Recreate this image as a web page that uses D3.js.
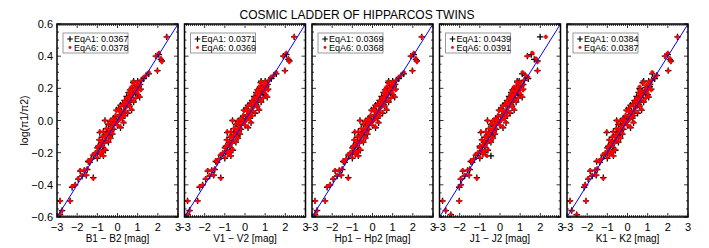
<!DOCTYPE html>
<html>
  <head>
    <title>Cosmic ladder of Hipparcos twins</title>
    <script src="https://cdnjs.cloudflare.com/ajax/libs/d3/7.8.5/d3.min.js"></script>
    <style>
      body { margin: 0; background: white; }
      text { font-family: "Liberation Sans", Arial, sans-serif; fill: black; }
    </style>
  </head>
  <body>
    <script>
      // panel bands and their legend numbers
      var bands = ['B1 \u2212 B2 [mag]', 'V1 \u2212 V2 [mag]', 'Hp1 \u2212 Hp2 [mag]', 'J1 \u2212 J2 [mag]', 'K1 \u2212 K2 [mag]'];
      var eqA1 = ['0.0367', '0.0371', '0.0369', '0.0439', '0.0384'];
      var eqA6 = ['0.0378', '0.0369', '0.0368', '0.0391', '0.0387'];
      var xTicks = [-3, -2, -1, 0, 1, 2, 3];
      var yTicks = [0.6, 0.4, 0.2, 0.0, -0.2, -0.4, -0.6];

      // log(pi1/pi2) per twin pair, EqA6 (red) and EqA1 (black)
      var yA6 = [0.52, 0.42, 0.40, 0.385, 0.365, 0.31, 0.30, 0.28, 0.27, 0.25, 0.23,
        0.24, 0.22, 0.20, 0.22, 0.21, 0.19, 0.18, 0.17, 0.17, 0.16, 0.15, 0.14, 0.13, 0.14, 0.12, 0.19,
        0.12, 0.11, 0.10, 0.09, 0.08, 0.09, 0.07, 0.06, 0.07, 0.05, 0.05, 0.06,
        0.03, 0.03, 0.02, 0.01, 0.00, 0.00, 0.00, -0.01, -0.02, -0.02, -0.03, -0.04, -0.04, -0.05, -0.05,
        -0.06, -0.07, -0.07, -0.08, -0.09, -0.10, -0.11, -0.12, -0.12, -0.13, -0.14, -0.15,
        -0.16, -0.17, -0.18, -0.19, -0.20, -0.20, -0.22, -0.21, -0.23, -0.24,
        -0.25, -0.26, -0.30, -0.31, -0.31, -0.34, -0.34, -0.36, -0.36, -0.40, -0.41, -0.50, -0.50, -0.56, -0.585,
        0.02, 0.10, 0.16, 0.20, 0.04, -0.01, -0.02, -0.08, -0.10, -0.13, -0.16, -0.10, 0.06,
        0.11, 0.18, 0.24, 0.13, 0.00, -0.19, -0.21, 0.19, 0.03, -0.07, 0.15, 0.01];
      var yA1 = [0.52, 0.41, 0.40, 0.38, 0.37, 0.31, 0.29, 0.28, 0.26, 0.25, 0.235,
        0.245, 0.215, 0.21, 0.225, 0.20, 0.19, 0.185, 0.16, 0.175, 0.165, 0.145, 0.14, 0.125, 0.15, 0.115, 0.195,
        0.125, 0.10, 0.105, 0.09, 0.085, 0.095, 0.065, 0.06, 0.075, 0.045, 0.055, 0.065,
        0.035, 0.025, 0.015, 0.015, 0.005, -0.005, 0.00, -0.015, -0.015, -0.025, -0.03, -0.035, -0.045, -0.05, -0.055,
        -0.065, -0.07, -0.075, -0.085, -0.09, -0.105, -0.11, -0.125, -0.12, -0.135, -0.14, -0.155,
        -0.165, -0.17, -0.185, -0.19, -0.205, -0.20, -0.22, -0.215, -0.235, -0.24,
        -0.255, -0.26, -0.305, -0.31, -0.315, -0.345, -0.34, -0.355, -0.365, -0.40, -0.415, -0.50, -0.50, -0.56, -0.585,
        0.025, 0.095, 0.155, 0.205, 0.045, -0.005, -0.025, -0.075, -0.10, -0.135, -0.16, -0.095, 0.06,
        0.115, 0.175, 0.245, 0.135, 0.005, -0.185, -0.21, 0.19, 0.03, -0.065, 0.145, 0.015];

      // magnitude differences: B, V, Hp look the same; J and K differ
      var xBVH = [2.44, 2.05, 1.90, 2.15, 2.20, 1.98, 1.55, 1.42, 1.30, 1.18, 0.78,
        0.80, 0.95, 1.05, 1.12, 0.70, 0.62, 0.88, 1.00, 0.55, 0.75, 1.10, 0.90, 0.65, 0.45, 0.80, 1.15,
        0.35, 0.55, 0.25, 0.60, 0.40, 0.15, 0.70, 0.30, 0.05, 0.50, 0.20, -0.05,
        0.10, -0.10, 0.25, -0.20, 0.05, -0.35, -0.62, 0.30, -0.15, -0.45, 0.00, -0.30, 0.15, -0.55, -0.20,
        -0.40, -0.70, -0.88, -0.25, -0.55, -0.75, -0.35, -0.60, -0.90, -0.45, -0.65, -0.85,
        -0.75, -1.00, -0.60, -0.90, -1.10, -0.80, -0.70, -1.20, -1.00, -1.30,
        -1.45, -1.38, -1.50, -1.65, -1.85, -1.75, -1.55, -1.20, -1.95, -2.10, -2.25, -2.35, -2.85, -2.75, -2.85,
        0.20, 0.45, 0.65, 0.85, 0.30, -0.05, -0.25, -0.50, -0.65, -0.80, -0.95, -0.40, 0.10,
        0.40, 0.70, 1.00, 0.55, -0.10, -0.70, -0.85, 0.95, 0.35, -0.30, 0.60, 0.15];
      var xJ6 = [2.27, 1.61, 1.36, 1.78, 1.86, 1.86, 1.12, 1.28, 1.40, 1.20, 0.87,
        0.85, 0.95, 1.05, 1.15, 0.70, 0.62, 0.88, 1.00, 0.55, 0.75, 1.10, 0.90, 0.65, 0.45, 0.80, 1.15,
        0.35, 0.55, 0.25, 0.60, 0.40, 0.15, 0.70, 0.30, 0.05, 0.50, 0.20, -0.05,
        0.10, -0.10, 0.25, -0.20, 0.05, -0.35, -0.62, 0.30, -0.15, -0.45, 0.00, -0.30, 0.15, -0.55, -0.20,
        -0.40, -0.70, -0.95, -0.25, -0.55, -0.75, -0.35, -0.60, -0.90, -0.45, -0.65, -0.85,
        -0.75, -1.00, -0.60, -0.90, -1.10, -0.80, -0.65, -1.20, -1.00, -1.30,
        -1.45, -1.38, -1.50, -1.61, -1.85, -1.75, -1.53, -1.15, -1.95, -1.94, -2.02, -2.02, -2.85, -2.69, -2.44,
        0.15, 0.45, 0.70, 0.85, 0.30, -0.10, -0.25, -0.55, -0.65, -0.80, -1.00, -0.40, 0.10,
        0.40, 0.75, 1.00, 0.55, -0.10, -0.75, -0.85, 0.95, 0.35, -0.30, 0.60, 0.15];
      var xJ1 = [1.99, 1.55, 1.36, 1.70, 1.86, 1.86, 1.10, 1.25, 1.40, 1.20, 0.87,
        0.85, 0.95, 1.05, 1.15, 0.70, 0.62, 0.88, 1.00, 0.55, 0.75, 1.10, 0.90, 0.65, 0.45, 0.80, 1.15,
        0.35, 0.55, 0.25, 0.60, 0.40, 0.15, 0.70, 0.30, 0.05, 0.50, 0.20, -0.05,
        0.10, -0.10, 0.25, -0.20, 0.05, -0.35, -0.62, 0.30, -0.15, -0.45, 0.00, -0.30, 0.15, -0.55, -0.20,
        -0.40, -0.70, -0.95, -0.25, -0.55, -0.75, -0.35, -0.60, -0.90, -0.45, -0.65, -0.85,
        -0.75, -1.00, -0.60, -0.90, -1.10, -0.80, -0.45, -1.20, -1.00, -1.30,
        -1.45, -1.38, -1.50, -1.61, -1.85, -1.75, -1.53, -1.15, -1.95, -1.94, -2.02, -2.02, -2.85, -2.69, -2.44,
        0.15, 0.40, 0.70, 0.80, 0.30, -0.10, -0.25, -0.55, -0.65, -0.80, -1.00, -0.40, 0.10,
        0.40, 0.75, 0.95, 0.55, -0.10, -0.75, -0.85, 0.95, 0.35, -0.30, 0.60, 0.15];
      var xK = [2.48, 2.00, 1.86, 2.10, 2.15, 2.02, 1.23, 1.45, 1.35, 1.20, 0.75,
        0.80, 0.95, 1.10, 1.12, 0.60, 0.62, 0.90, 1.00, 0.55, 0.75, 1.05, 0.90, 0.65, 0.45, 0.80, 1.18,
        0.35, 0.55, 0.25, 0.60, 0.40, 0.15, 0.70, 0.30, 0.05, 0.50, 0.20, -0.05,
        0.10, -0.10, 0.25, -0.20, 0.05, -0.35, -0.54, 0.30, -0.15, -0.45, 0.00, -0.30, 0.15, -0.55, -0.20,
        -0.40, -0.70, -1.03, -0.25, -0.55, -0.75, -0.35, -0.60, -0.90, -0.45, -0.65, -0.85,
        -0.75, -1.00, -0.60, -0.90, -1.10, -0.80, -0.70, -1.20, -1.00, -1.30,
        -1.53, -1.38, -1.50, -1.61, -1.85, -1.75, -1.55, -1.20, -1.95, -2.10, -2.15, -2.06, -2.85, -2.77, -2.52,
        0.20, 0.50, 0.65, 0.90, 0.25, -0.05, -0.20, -0.50, -0.60, -0.80, -0.95, -0.45, 0.05,
        0.45, 0.70, 1.05, 0.55, -0.15, -0.70, -0.90, 0.95, 0.30, -0.35, 0.65, 0.10];

      var xRed = [xBVH, xBVH, xBVH, xJ6, xK];
      var xBlack = [xBVH, xBVH, xBVH, xJ1, xK];

      var W = 709, H = 248;
      var plotTop = 24, plotBottom = 217, pw = 121, step = 127.5, left0 = 57;

      var svg = d3.select('body').append('svg').attr('width', W).attr('height', H);

      svg.append('text').attr('x', 357).attr('y', 19).attr('text-anchor', 'middle')
        .style('font-size', '12px').text('COSMIC LADDER OF HIPPARCOS TWINS');

      var y = d3.scaleLinear().domain([-0.6, 0.6]).range([plotBottom, plotTop]);

      svg.append('text').attr('transform', 'translate(28,' + ((plotTop + plotBottom) / 2) + ') rotate(-90)')
        .attr('text-anchor', 'middle').style('font-size', '10.5px').text('log(\u03c01/\u03c02)');

      svg.selectAll('.ylab').data(yTicks).enter().append('text').attr('class', 'ylab')
        .attr('x', 53).attr('y', function(d){ return y(d) + 4; }).attr('text-anchor', 'end')
        .style('font-size', '11px')
        .text(function(d){ return (d < 0 ? '\u2212' : '') + Math.abs(d).toFixed(1); });

      function plus(s){ return 'M' + (-s) + ',0H' + s + 'M0,' + (-s) + 'V' + s; }

      bands.forEach(function(band, p){
        var x0 = left0 + p * step;
        var x = d3.scaleLinear().domain([-3, 3]).range([x0, x0 + pw]);
        var g = svg.append('g');

        var clip = 'clip' + p;
        g.append('clipPath').attr('id', clip).append('rect')
          .attr('x', x0).attr('y', plotTop).attr('width', pw).attr('height', plotBottom - plotTop);
        var plot = g.append('g').attr('clip-path', 'url(#' + clip + ')');

        // black EqA1 crosses
        plot.selectAll('.a1').data(yA1).enter().append('path').attr('class', 'a1')
          .attr('transform', function(d, i){ return 'translate(' + x(xBlack[p][i]) + ',' + y(d) + ')'; })
          .attr('d', plus(3.2)).attr('stroke', 'black').attr('stroke-width', 1.3).attr('fill', 'none');
        // red EqA6 marks
        plot.selectAll('.a6').data(yA6).enter().append('path').attr('class', 'a6')
          .attr('transform', function(d, i){ return 'translate(' + x(xRed[p][i]) + ',' + y(d) + ')'; })
          .attr('d', plus(2.1)).attr('stroke', '#ff0000').attr('stroke-width', 2).attr('fill', 'none');

        // one-to-one line
        plot.append('line').attr('x1', x(-3)).attr('y1', y(-0.6)).attr('x2', x(3)).attr('y2', y(0.6))
          .attr('stroke', '#0000ff').attr('stroke-width', 1);

        // ticks
        var xMinor = d3.range(-30, 31).map(function(v){ return v / 10; });
        var yMinor = d3.range(-12, 13).map(function(v){ return v / 20; });
        g.selectAll('.xt').data(xMinor).enter().append('path').attr('class', 'xt')
          .attr('d', function(d){
            var len = (Math.abs(d - Math.round(d)) < 1e-6) ? 4 : 2;
            return 'M' + x(d) + ',' + plotBottom + 'v' + (-len) + 'M' + x(d) + ',' + plotTop + 'v' + len;
          })
          .attr('stroke', 'black').attr('stroke-width', 0.8);
        g.selectAll('.yt').data(yMinor).enter().append('path').attr('class', 'yt')
          .attr('d', function(d){
            var major = Math.abs(d * 5 - Math.round(d * 5)) < 1e-6;
            var len = major ? 4 : 2;
            return 'M' + x0 + ',' + y(d) + 'h' + len + 'M' + (x0 + pw) + ',' + y(d) + 'h' + (-len);
          })
          .attr('stroke', 'black').attr('stroke-width', 0.8);

        g.append('rect').attr('x', x0).attr('y', plotTop).attr('width', pw).attr('height', plotBottom - plotTop)
          .attr('fill', 'none').attr('stroke', 'black').attr('stroke-width', 1.5);

        g.selectAll('.xlab').data(xTicks).enter().append('text').attr('class', 'xlab')
          .attr('x', function(d){ return x(d); }).attr('y', 231).attr('text-anchor', 'middle')
          .style('font-size', '11px')
          .text(function(d){ return (d < 0 ? '\u2212' : '') + Math.abs(d); });

        g.append('text').attr('x', x(0)).attr('y', 242).attr('text-anchor', 'middle')
          .style('font-size', '10px').text(band);

        // legend
        var lg = g.append('g').attr('transform', 'translate(' + (x0 + 6) + ',' + 33 + ')');
        lg.append('rect').attr('width', 65).attr('height', 20).attr('fill', 'white')
          .attr('stroke', '#999').attr('stroke-width', 1);
        lg.append('path').attr('transform', 'translate(7,6)').attr('d', plus(2.8))
          .attr('stroke', 'black').attr('stroke-width', 1.2);
        lg.append('circle').attr('cx', 7).attr('cy', 14.5).attr('r', 1.4).attr('fill', '#ff0000');
        lg.append('text').attr('x', 11).attr('y', 9).style('font-size', '9px').text('EqA1: ' + eqA1[p]);
        lg.append('text').attr('x', 11).attr('y', 17.5).style('font-size', '9px').text('EqA6: ' + eqA6[p]);
      });
    </script>
  </body>
</html>
